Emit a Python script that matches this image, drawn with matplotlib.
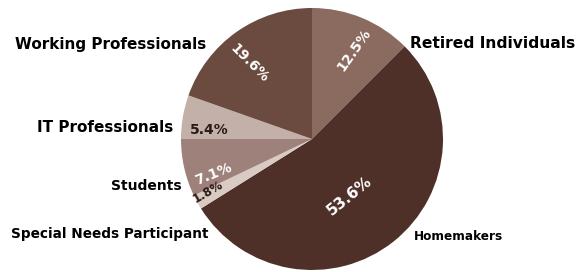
import numpy as np
import matplotlib.pyplot as plt

plt.rcParams['font.family'] = ['DejaVu Sans']

# data, clockwise from 12 o'clock
groups = ['Retired Individuals', 'Homemakers', 'Special Needs Participant',
          'Students', 'IT Professionals', 'Working Professionals']
shares = [12.5, 53.6, 1.8, 7.1, 5.4, 19.6]

colors = ['#8b6a5f', '#4e3029', '#d9cbc4', '#9d817a', '#c2b0a9', '#6b4a3f']

# percentage label styling: radius, angle nudge (deg), rotation, colour, size
pct_radius = [0.75, 0.52, 0.89, 0.80, 0.79, 0.75]
pct_shift = [-3, -5, -2, 7, 5, 4]
pct_rot = [55, 39, 30, 22, 0, -45]
pct_colors = ['white', 'white', '#2a1a16', 'white', '#2a1a16', 'white']
pct_size = [10, 11, 8.5, 10, 10, 10]

W, H = 578, 272
fig = plt.figure(figsize=(W / 100, H / 100), dpi=100)
cx, cy, r = 312, 139, 131
ax = fig.add_axes([(cx - r) / W, (H - cy - r) / H, 2 * r / W, 2 * r / H])

wedges, _ = ax.pie(shares, colors=colors, startangle=90, counterclock=False,
                   radius=1, wedgeprops=dict(linewidth=0))
ax.set_xlim(-1, 1)
ax.set_ylim(-1, 1)
ax.set_aspect('equal')
ax.axis('off')

for w, val, rr, sh, rot, c, fs in zip(wedges, shares, pct_radius, pct_shift,
                                      pct_rot, pct_colors, pct_size):
    mid = np.radians((w.theta1 + w.theta2) / 2 + sh)
    ax.text(rr * np.cos(mid), rr * np.sin(mid), f'{val}%', ha='center', va='center',
            rotation=rot, rotation_mode='anchor', color=c, fontsize=fs,
            fontweight='bold')

# outer labels
lab = dict(fontweight='bold', color='black', va='center')
fig.text(111 / W, 1 - 44 / H, groups[5], ha='center', fontsize=11, **lab)
fig.text(493 / W, 1 - 43 / H, groups[0], ha='center', fontsize=11.2, **lab)
fig.text(173 / W, 1 - 128 / H, groups[4], ha='right', fontsize=11, **lab)
fig.text(182 / W, 1 - 186 / H, groups[3], ha='right', fontsize=10, **lab)
fig.text(110 / W, 1 - 234 / H, groups[2], ha='center', fontsize=9.8, **lab)
fig.text(414 / W, 1 - 237 / H, groups[1], ha='left', fontsize=8.7, **lab)

plt.savefig('out.png', dpi=100, facecolor='white')
